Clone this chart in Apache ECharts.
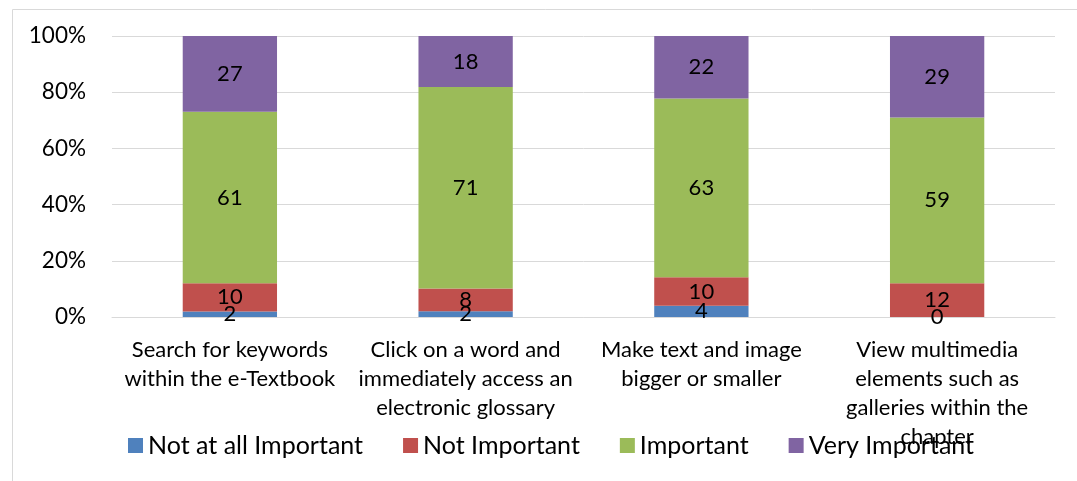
<!DOCTYPE html>
<html>
<head>
<meta charset="utf-8">
<script src="https://cdn.jsdelivr.net/npm/echarts@6/dist/echarts.min.js"></script>
<style>
html,body{margin:0;padding:0;background:#fff;}
#chart{width:1077px;height:481px;}
</style>
</head>
<body>
<div id="chart"></div>
<script>
const categories = [
  "Search for keywords\nwithin the e-Textbook",
  "Click on a word and\nimmediately access an\nelectronic glossary",
  "Make text and image\nbigger or smaller",
  "View multimedia\nelements such as\ngalleries within the\nchapter"
];
const seriesNames = ["Not at all Important", "Not Important", "Important", "Very Important"];
const notAtAll = [2, 2, 4, 0];
const notImportant = [10, 8, 10, 12];
const important = [61, 71, 63, 59];
const veryImportant = [27, 18, 22, 29];
const yTicks = ["0%", "20%", "40%", "60%", "80%", "100%"];
const colors = ["#4F81BD", "#C0504D", "#9BBB59", "#8064A2"];

const raw = [notAtAll, notImportant, important, veryImportant];
const totals = categories.map((c, i) => raw.reduce((s, arr) => s + arr[i], 0));
const FONT = "Lato";

const series = raw.map((arr, k) => ({
  name: seriesNames[k],
  type: 'bar',
  stack: 'total',
  barWidth: '40%',
  itemStyle: { color: colors[k] },
  label: {
    show: true,
    position: 'inside',
    color: '#000',
    fontFamily: FONT,
    fontSize: 22,
    formatter: p => String(p.data.raw)
  },
  data: arr.map((v, i) => ({ value: v / totals[i] * 100, raw: v }))
}));

const chart = echarts.init(document.getElementById('chart'));
chart.setOption({
  animation: false,
  textStyle: { fontFamily: FONT },
  graphic: [{
    type: 'rect', left: 10, top: 7, silent: true,
    shape: { width: 1100, height: 500 },
    style: { fill: 'none', stroke: '#d9d9d9', lineWidth: 1 }
  }],
  grid: { left: 112, right: 22, top: 36, bottom: 164, containLabel: false },
  legend: {
    data: seriesNames,
    left: 123,
    top: 428,
    itemWidth: 15,
    itemHeight: 15,
    itemGap: 40,
    icon: 'rect',
    textStyle: { fontFamily: FONT, fontSize: 25, color: '#000' }
  },
  xAxis: {
    type: 'category',
    data: categories,
    axisLine: { lineStyle: { color: '#d9d9d9' } },
    axisTick: { show: false },
    axisLabel: {
      interval: 0,
      color: '#000',
      fontFamily: FONT,
      fontSize: 22,
      lineHeight: 29,
      margin: 18
    }
  },
  yAxis: {
    type: 'value',
    min: 0,
    max: 100,
    interval: 20,
    axisLine: { show: false },
    axisTick: { show: false },
    splitLine: { lineStyle: { color: '#d9d9d9' } },
    axisLabel: {
      color: '#000',
      fontFamily: FONT,
      fontSize: 22.5,
      margin: 26,
      formatter: v => yTicks[Math.round(v / 20)]
    }
  },
  series: series
});
</script>
</body>
</html>
